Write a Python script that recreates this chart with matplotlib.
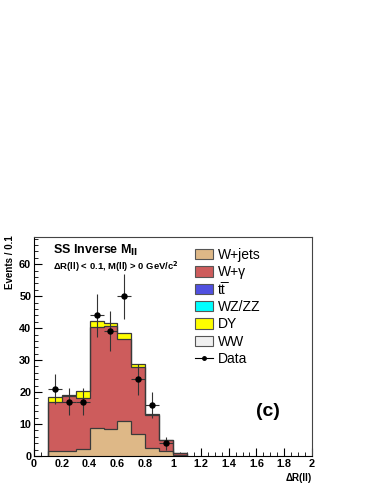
import numpy as np
import matplotlib
matplotlib.use("Agg")
import matplotlib.pyplot as plt
from matplotlib.patches import Patch
from matplotlib.lines import Line2D

plt.rcParams['font.family'] = ['Liberation Sans', 'DejaVu Sans']

# ---- data ----
bin_edges = [0.1, 0.2, 0.3, 0.4, 0.5, 0.6, 0.7, 0.8, 0.9, 1.0, 1.1]
wjets  = [1.7, 1.7, 2.1, 8.9, 8.6, 10.8, 6.8, 2.4, 1.7, 0.3]
wgamma = [15.2, 17.2, 16.1, 31.3, 32.0, 25.8, 20.9, 10.4, 3.2, 0.5]
ttbar  = [0.0, 0.0, 0.0, 0.1, 0.0, 0.0, 0.0, 0.0, 0.0, 0.0]
wzzz   = [0.0, 0.0, 0.0, 0.0, 0.0, 0.0, 0.0, 0.0, 0.0, 0.0]
dy     = [1.4, 0.3, 2.1, 2.0, 0.9, 2.0, 1.0, 0.2, 0.1, 0.0]
ww     = [0.0, 0.0, 0.0, 0.0, 0.0, 0.0, 0.0, 0.0, 0.0, 0.0]
data_x = [0.15, 0.25, 0.35, 0.45, 0.55, 0.65, 0.75, 0.85, 0.95]
data_y = [21, 17, 17, 44, 39, 50, 24, 16, 4]

labels = ["W+jets", "W+\u03b3", "tt\u0305", "WZ/ZZ", "DY", "WW"]
colors = ["#deb887", "#cd5c5c", "#5050e0", "#00ffff", "#ffff00", "#f0f0f0"]
components = [wjets, wgamma, ttbar, wzzz, dy, ww]

fig = plt.figure(figsize=(3.74, 4.84), dpi=100)
ax = fig.add_axes([34/374, 1-456/484, (312-34)/374, (456-237)/484])

edges = np.array(bin_edges)
base = np.zeros(len(wjets))
tops = []
for comp in components:
    top = base + np.array(comp)
    tops.append(top.copy())
    base = top
for top, col in reversed(list(zip(tops, colors))):
    ax.stairs(top, edges, baseline=0, fill=True, facecolor=col, edgecolor='none', zorder=2)
for top in tops[:2] + [tops[-1]]:
    ax.stairs(top, edges, baseline=0, fill=False, edgecolor='#3a3a3a', linewidth=0.9, zorder=3)

# data
dx = np.array(data_x)
dyv = np.array(data_y, dtype=float)
ax.errorbar(dx, dyv, xerr=0.05, yerr=np.sqrt(dyv), fmt='o', color='black',
            ecolor='#333333', elinewidth=0.8, markersize=3.6, capsize=0, zorder=5)

ax.set_xlim(0, 2)
ax.set_ylim(0, 68.5)
ax.set_xticks(np.arange(0, 2.01, 0.2))
ax.set_xticklabels(['0', '0.2', '0.4', '0.6', '0.8', '1', '1.2', '1.4', '1.6', '1.8', '2'])
ax.set_xticks(np.arange(0, 2.001, 0.05), minor=True)
ax.set_yticks(np.arange(0, 61, 10))
ax.set_yticks(np.arange(0, 69, 2), minor=True)
ax.tick_params(which='both', direction='in', top=False, right=False, labelsize=7.8, pad=2)
ax.tick_params(which='major', length=6, width=0.8)
ax.tick_params(which='minor', length=3, width=0.6)
for lbl in ax.get_xticklabels() + ax.get_yticklabels():
    lbl.set_fontweight('bold')
for s in ax.spines.values():
    s.set_linewidth(0.8)
    s.set_color('#444444')
ax.spines['bottom'].set_color('black')
ax.spines['left'].set_color('black')

fig.text(10/374, 1-235/484, "Events / 0.1", rotation=90, ha='center', va='top',
         fontsize=7, fontweight='bold')
fig.text(312/374, 1-478/484, "\u0394R(ll)", ha='right', va='center',
         fontsize=7, fontweight='bold')

fig.text(53/374, 1-250/484, "SS Inverse M$_{\\mathbf{ll}}$", ha='left', va='center',
         fontsize=9, fontweight='bold')
fig.text(53/374, 1-267/484, "\u0394R(ll) < 0.1, M(ll) > 0 GeV/c$^{\\mathbf{2}}$", ha='left',
         va='center', fontsize=6.8, fontweight='bold')
fig.text(268/374, 1-412/484, "(c)", ha='center', va='center', fontsize=14, fontweight='bold')

handles = [Patch(facecolor=c, edgecolor='#555555', linewidth=0.8) for c in colors]
handles.append(Line2D([0], [0], color='black', marker='o', markersize=2.5, linewidth=0.8))
leg = fig.legend(handles, labels + ["Data"], loc='upper left',
                 bbox_to_anchor=(195/374, 1-248/484), frameon=False,
                 fontsize=10, handlelength=1.3, handleheight=0.8,
                 handletextpad=0.35, labelspacing=0.24, borderaxespad=0, borderpad=0)

fig.savefig("out.png", dpi=100)
